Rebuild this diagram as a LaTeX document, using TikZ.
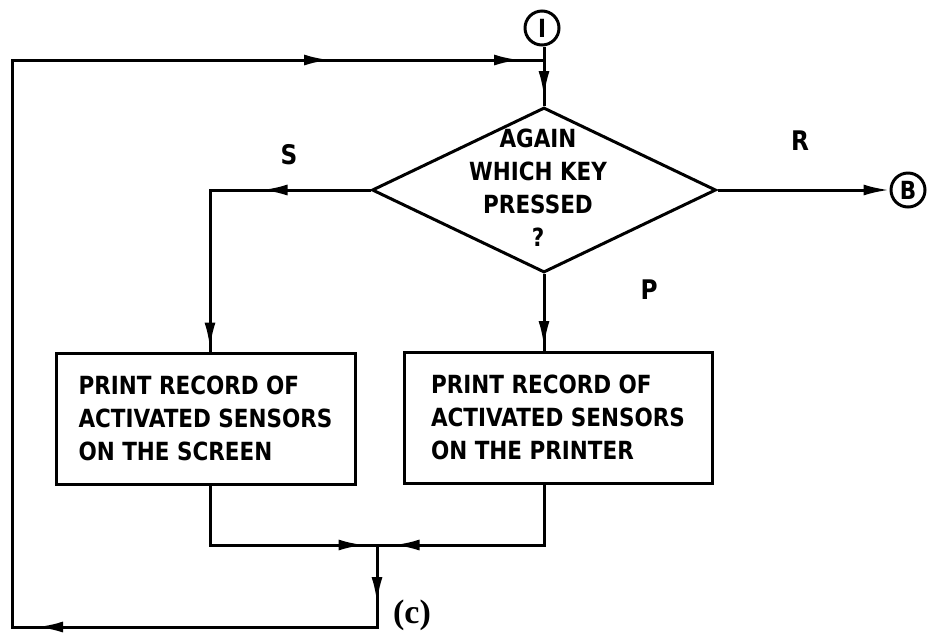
\documentclass[tikz,border=0pt]{standalone}
\usepackage{fontspec}
\setmainfont{DejaVu Sans}[FakeStretch=0.86]
\newfontfamily\capfont{Liberation Serif}
\usetikzlibrary{shapes.geometric,arrows.meta,decorations.markings}
\tikzset{
 ln/.style={line width=3pt, line join=miter},
 marr/.style={postaction={decorate,decoration={markings,mark=at position #1 with {\arrow{Latex[length=26pt,width=11pt]}}}}},
 txt/.style={font=\bfseries\fontsize{25}{33}\selectfont},
 box/.style={draw, ln, rectangle, align=left, inner sep=0pt, txt},
 lbl/.style={font=\bfseries\fontsize{27}{30}\selectfont},
 conn/.style={draw, ln, circle, minimum size=34pt, inner sep=0pt, font=\bfseries\fontsize{25}{28}\selectfont},
}
\begin{document}
\begin{tikzpicture}[x=1pt,y=-1pt]
\useasboundingbox[fill=white] (0,0) rectangle (928,641);
% nodes
\node[conn] (I) at (542,28) {I};
\node[conn] (B) at (908,190) {B};
\node[draw, ln, diamond, minimum width=344pt, minimum height=165pt, inner sep=0pt] (D) at (544,190) {};
\node[txt, align=center] (DT) at (538,188) {AGAIN\\WHICH KEY\\PRESSED\\?};
\node[box, minimum width=299pt, minimum height=131pt] (B1) at (205.5,418.5) {PRINT RECORD OF\\ACTIVATED SENSORS\\ON THE SCREEN};
\node[box, minimum width=308pt, minimum height=131pt] (B2) at (558,417.5) {PRINT RECORD OF\\ACTIVATED SENSORS\\ON THE PRINTER};
\node[lbl] (S) at (289,155) {S};
\node[lbl] (P) at (649,290) {P};
\node[lbl] (R) at (800,141) {R};
\node[font=\capfont\bfseries\fontsize{34}{36}\selectfont] (cap) at (412,615) {(c)};
% coordinates
\coordinate (SL) at (210,190);
\coordinate (J1) at (544,60);
\coordinate (TL) at (12,60);
\coordinate (BL) at (12,627);
\coordinate (M) at (377,545);
\coordinate (MB) at (377,627);
% connectors
\draw[ln, marr=109pt, marr=319pt] (D.west) -- (SL) -- (SL |- B1.north);
\draw[ln, marr=73pt] (D.south) -- (D.south |- B2.north);
\draw[ln, -{Latex[length=26pt,width=11pt]}] (D.east) -- (B.west);
\draw[ln, marr=214pt] (SL |- B1.south) -- (SL |- M) -- (M);
\draw[ln, marr=211pt] (D.south |- B2.south) -- (D.south |- M) -- (M);
\draw[ln, marr=58pt, marr=422pt, marr=1332pt, marr=1522pt] (M) -- (MB) -- (BL) -- (TL) -- (J1);
\draw[ln] (I.south -| J1) -- (J1);
\draw[ln, marr=37pt] (J1) -- (D.north);
\end{tikzpicture}
\end{document}
